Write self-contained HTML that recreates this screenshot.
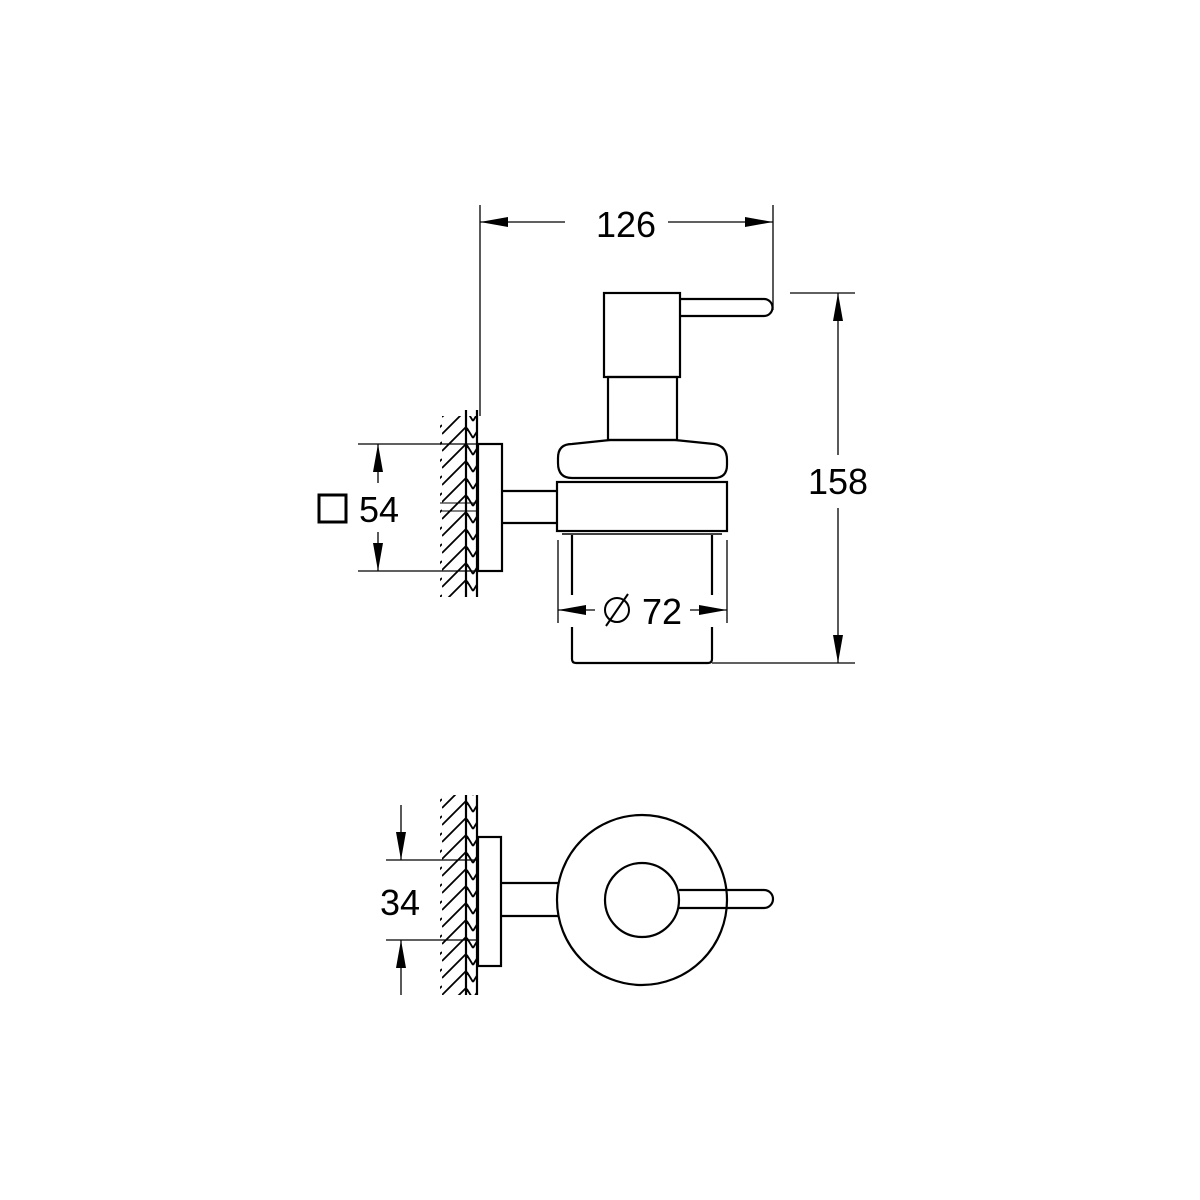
<!DOCTYPE html>
<html><head><style>body{margin:0;background:#fff}svg{display:block}</style></head><body>
<svg width="1200" height="1200" viewBox="0 0 1200 1200" xmlns="http://www.w3.org/2000/svg" font-family="Liberation Sans, sans-serif">
<defs>
<pattern id="h" width="26" height="17" patternUnits="userSpaceOnUse">
<line x1="0" y1="26" x2="26" y2="0" stroke="#000" stroke-width="1.8"/>
<line x1="0" y1="9" x2="26" y2="-17" stroke="#000" stroke-width="1.8"/>
<line x1="0" y1="43" x2="26" y2="17" stroke="#000" stroke-width="1.8"/>
</pattern>
<pattern id="c" width="11" height="17" patternUnits="userSpaceOnUse">
<path d="M0 13 L5.5 4 L11 13" fill="none" stroke="#000" stroke-width="1.8"/>
</pattern>
</defs>
<g fill="none" stroke="#000" stroke-width="2.2">
<!-- TOP VIEW wall -->
<rect x="440" y="416" width="26" height="181" fill="url(#h)" stroke="none"/>
<rect x="466" y="416" width="11" height="181" fill="url(#c)" stroke="none"/>
<line x1="466" y1="410" x2="466" y2="597"/>
<line x1="477" y1="410" x2="477" y2="597"/>
<line x1="440" y1="503" x2="478" y2="503" stroke-width="1"/>
<line x1="440" y1="511" x2="478" y2="511" stroke-width="1"/>
<rect x="478" y="444" width="24" height="127"/>
<path d="M502 491 H557 M502 523 H557"/>
<rect x="557" y="482" width="170" height="49"/>
<line x1="562" y1="534" x2="722" y2="534" stroke-width="1.5"/>
<path d="M572 478 Q558 478 558 463 L558 458 Q558 444 572 444 L610 440 H675 L714 444 Q727 446 727 460 L727 465 Q727 478 714 478 Z"/>
<rect x="608" y="377" width="69" height="63"/>
<rect x="604" y="293" width="76" height="84"/>
<path d="M680 299 H764 A8.5 8.5 0 0 1 764 316 H680"/>
<path d="M572 535 V595 M712 535 V595"/>
<path d="M572 627 V659 Q572 663 576 663 H708 Q712 663 712 659 V627"/>
<!-- BOTTOM VIEW -->
<rect x="440" y="795" width="26" height="200" fill="url(#h)" stroke="none"/>
<rect x="466" y="795" width="11" height="200" fill="url(#c)" stroke="none"/>
<line x1="466" y1="795" x2="466" y2="995"/>
<line x1="477" y1="795" x2="477" y2="995"/>
<rect x="478" y="837" width="23" height="129"/>
<path d="M501 883 H559 M501 916 H559"/>
<circle cx="642" cy="900" r="85"/>
<circle cx="642" cy="900" r="37"/>
<path d="M679 890 H764 A9 9 0 0 1 764 908 H679"/>
</g>
<g stroke="#000" stroke-width="1.3" fill="none">
<path d="M480 205 V416 M773 205 V310 M480 222 H565 M668 222 H773"/>
<path d="M790 293 H855 M712 663 H855 M838 293 V455 M838 508 V663"/>
<path d="M358 444 H478 M358 571 H478 M378 444 V483 M378 532 V571"/>
<path d="M558 540 V623 M727 540 V623 M558 610 H595 M690 610 H727"/>
<path d="M386 860 H476 M386 940 H476 M401 805 V860 M401 940 V995"/>
</g>
<g fill="#000">
<path d="M480 222 L508 217 L508 227 Z M773 222 L745 217 L745 227 Z"/>
<path d="M838 293 L833 321 L843 321 Z M838 663 L833 635 L843 635 Z"/>
<path d="M378 444 L373 472 L383 472 Z M378 571 L373 543 L383 543 Z"/>
<path d="M558 610 L586 605 L586 615 Z M727 610 L699 605 L699 615 Z"/>
<path d="M401 860 L396 832 L406 832 Z M401 940 L396 968 L406 968 Z"/>
</g>
<g font-size="36" fill="#000" text-anchor="middle">
<text x="626" y="237">126</text>
<text x="838" y="494">158</text>
<text x="379" y="522">54</text>
<text x="662" y="624">72</text>
<text x="400" y="915">34</text>
</g>
<rect x="319" y="495" width="27" height="27" fill="none" stroke="#000" stroke-width="3"/>
<circle cx="617" cy="610" r="12" fill="none" stroke="#000" stroke-width="2"/>
<line x1="606" y1="626" x2="628" y2="594" stroke="#000" stroke-width="2"/>
</svg>
</body></html>
